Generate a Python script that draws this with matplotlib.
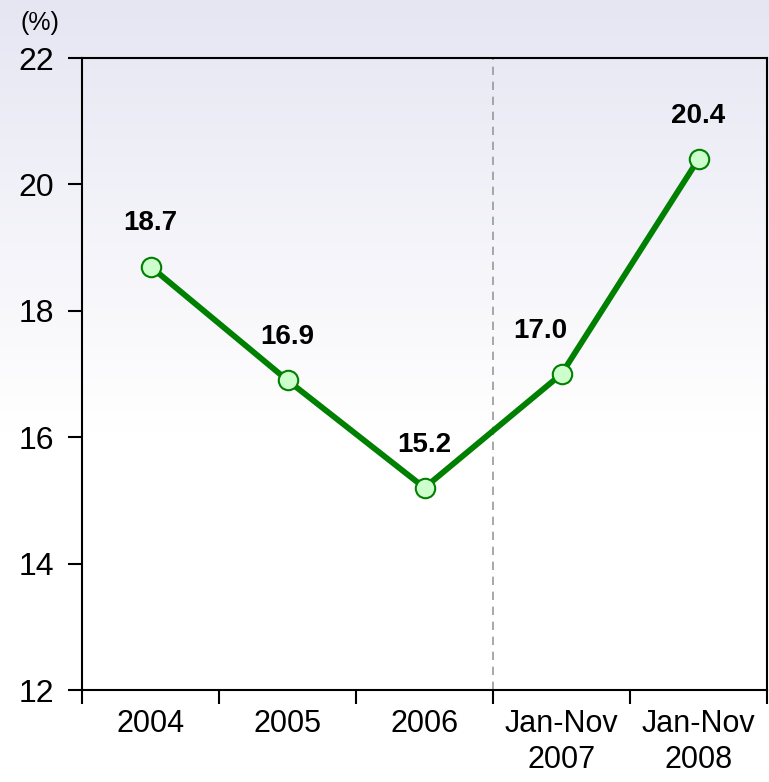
import numpy as np
import matplotlib.pyplot as plt
from matplotlib.colors import LinearSegmentedColormap

plt.rcParams['font.family'] = ['Liberation Sans', 'DejaVu Sans']

categories = ['2004', '2005', '2006', 'Jan-Nov\n2007', 'Jan-Nov\n2008']
values = [18.7, 16.9, 15.2, 17.0, 20.4]
labels = ['18.7', '16.9', '15.2', '17.0', '20.4']
label_dx = [0, 0, 0, -15, 0]

fig = plt.figure(figsize=(7.69, 7.82), dpi=100)

# background gradient over the whole figure
bg = fig.add_axes([0, 0, 1, 1], zorder=-10)
grad = np.linspace(0, 1, 400).reshape(-1, 1)
cmap = LinearSegmentedColormap.from_list('bg', [(0, '#e6e6f3'), (0.55, '#ffffff'), (1, '#ffffff')])
bg.imshow(grad, aspect='auto', cmap=cmap, extent=[0, 1, 0, 1], origin='upper')
bg.axis('off')

ax = fig.add_axes([82 / 769, 1 - 690 / 782, (767 - 82) / 769, (690 - 58) / 782])
ax.set_facecolor('none')

x = np.arange(len(values)) + 0.5
ax.plot(x, values, color='#008000', lw=4.2, marker='o', ms=14,
        mfc='#ccffcc', mec='#008000', mew=1.5, zorder=5)

for xi, v, t, dx in zip(x, values, labels, label_dx):
    ax.annotate(t, (xi, v), xytext=(dx, 26), textcoords='offset points',
                ha='center', va='baseline', fontsize=20, fontweight='bold')

ax.axvline(3, color='#999999', lw=1.2, ls=(0, (5, 4)), zorder=1)

ax.set_xlim(0, 5)
ax.set_ylim(12, 22)
ax.set_yticks([12, 14, 16, 18, 20, 22])
ax.set_xticks(np.arange(6))
ax.set_xticklabels([])
ax.set_xticks(x, minor=True)
ax.set_xticklabels(categories, minor=True, fontsize=22, linespacing=1.25)
ax.tick_params(axis='x', which='minor', length=0, pad=14)
ax.tick_params(axis='x', which='major', direction='out', length=10, width=1.5)
ax.tick_params(axis='y', direction='out', length=10, width=1.5, labelsize=23, pad=10)
for s in ax.spines.values():
    s.set_linewidth(1.5)

fig.text(20 / 769, 1 - 23 / 782, '(%)', fontsize=18, va='center', ha='left')

fig.savefig('out.png', dpi=100)
